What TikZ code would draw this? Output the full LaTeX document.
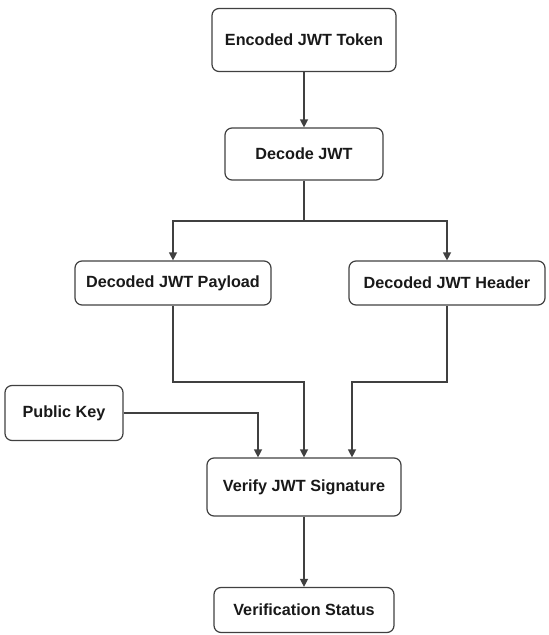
\documentclass[tikz,border=0pt]{standalone}
\usepackage{fontspec}
\setmainfont{Liberation Sans}
\usetikzlibrary{arrows.meta}
\usetikzlibrary{positioning}
\tikzset{>={Triangle[length=8pt,width=8pt]}}

\begin{document}
\begin{tikzpicture}[x=1pt,y=-1pt,
  box/.style={draw=black!75, line width=1.2pt, rounded corners=7pt, inner sep=0pt, align=center,
    font=\fontsize{16.2}{19}\selectfont\bfseries, text=black!90},
  flow/.style={draw=black!75, line width=1.3pt, ->},
  on grid]
  \useasboundingbox (0,0) rectangle (549,635);
  \node[box, minimum width=184pt, minimum height=63pt] (token) at (304,40) {Encoded JWT Token};
  \node[box, minimum width=158pt, minimum height=52pt] (decode) [below=114pt of token] {Decode JWT};
  \node[box, minimum width=196pt, minimum height=44pt] (payload) at (173,283) {Decoded JWT Payload};
  \node[box, minimum width=196pt, minimum height=44pt] (header) at (447,283) {Decoded JWT Header};
  \node[box, minimum width=118pt, minimum height=55pt] (pubkey) at (64,413) {Public Key};
  \node[box, minimum width=194pt, minimum height=58pt] (verify) at (304,487) {Verify JWT Signature};
  \node[box, minimum width=180pt, minimum height=45pt] (status) [below=123pt of verify] {Verification Status};
  \coordinate (fork) at (304,221);
  \coordinate (join) at (304,382);
  \path[flow] (token) -- (decode);
  \path[flow, -] (decode) -- (fork);
  \path[flow] (fork) -| (payload);
  \path[flow] (fork) -| (header);
  \path[flow] (payload) |- (join) -- (verify);
  \path[flow] (header) |- ([xshift=48]join) -- ([xshift=48]verify.north);
  \path[flow] (pubkey) -| ([xshift=-46]verify.north);
  \path[flow] (verify) -- (status);
\end{tikzpicture}
\end{document}
